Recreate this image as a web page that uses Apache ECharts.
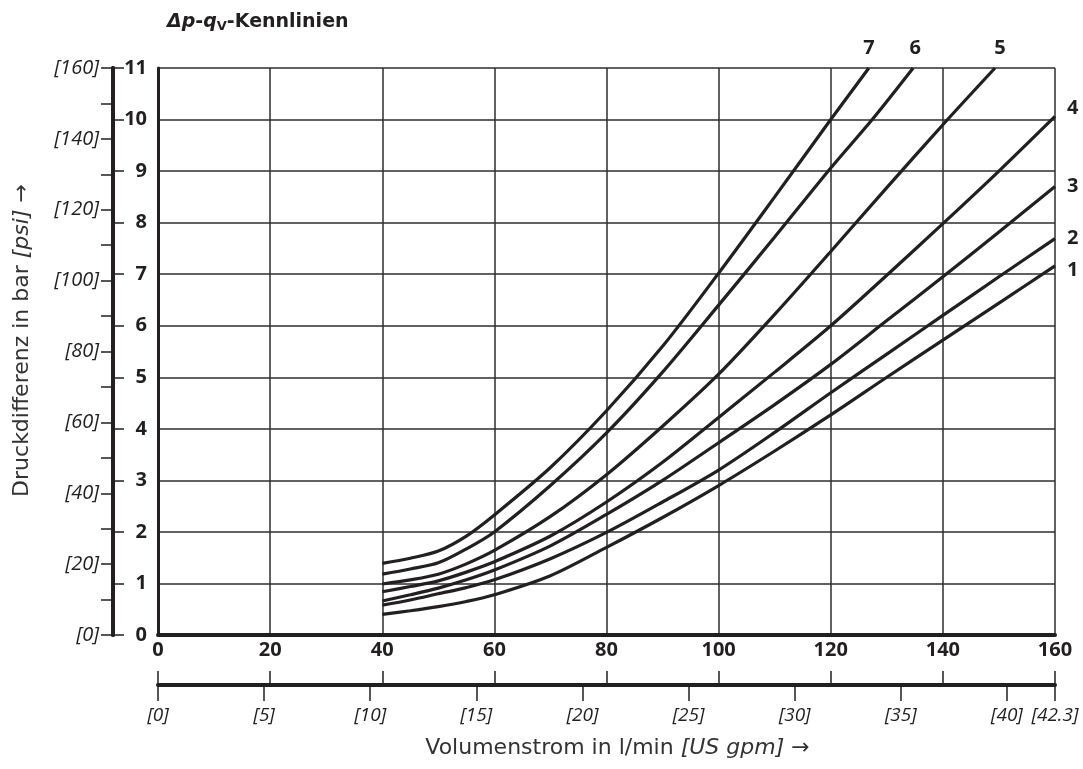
<!DOCTYPE html>
<html>
<head>
<meta charset="utf-8">
<script src="https://cdn.jsdelivr.net/npm/echarts@6/dist/echarts.min.js"></script>
<style>
  html, body { margin: 0; padding: 0; background: #ffffff; }
  #chart { width: 1083px; height: 769px; }
</style>
</head>
<body>
<div id="chart"></div>
<script>
// ---- data ----
const flowTicks = [0, 20, 40, 60, 80, 100, 120, 140, 160];      // l/min
const q1 = [40, 45, 50, 55, 60, 70, 80, 90, 100, 110, 120, 130, 140, 150, 160];
const dp1 = [0.40, 0.47, 0.55, 0.65, 0.78, 1.15, 1.70, 2.28, 2.90, 3.57, 4.27, 5.00, 5.72, 6.44, 7.16];
const q2 = [40, 45, 50, 55, 60, 70, 80, 90, 100, 110, 120, 130, 140, 150, 160];
const dp2 = [0.58, 0.68, 0.80, 0.92, 1.07, 1.48, 1.99, 2.58, 3.20, 3.93, 4.70, 5.45, 6.20, 6.95, 7.69];
const q3 = [40, 45, 50, 55, 60, 70, 80, 90, 100, 110, 120, 130, 140, 150, 160];
const dp3 = [0.66, 0.78, 0.91, 1.07, 1.26, 1.73, 2.34, 3.00, 3.73, 4.47, 5.25, 6.10, 6.95, 7.82, 8.70];
const q4 = [40, 45, 50, 55, 60, 70, 80, 90, 100, 110, 120, 130, 140, 150, 160];
const dp4 = [0.84, 0.94, 1.05, 1.22, 1.42, 1.92, 2.58, 3.35, 4.22, 5.10, 6.00, 6.98, 7.98, 9.00, 10.06];
const q5 = [40, 45, 50, 55, 60, 70, 80, 90, 100, 110, 120, 130, 140, 149.3];
const dp5 = [0.99, 1.07, 1.18, 1.38, 1.64, 2.30, 3.11, 4.05, 5.06, 6.22, 7.44, 8.68, 9.90, 11.0];
const q6 = [40, 45, 50, 55, 60, 70, 80, 90, 100, 110, 120, 127.4, 134.7];
const dp6 = [1.18, 1.28, 1.40, 1.67, 2.00, 2.90, 3.92, 5.10, 6.40, 7.72, 9.06, 10.0, 11.0];
const q7 = [40, 45, 50, 55, 60, 70, 80, 90, 100, 110, 120, 126.8];
const dp7 = [1.39, 1.49, 1.63, 1.92, 2.33, 3.25, 4.35, 5.60, 7.02, 8.50, 10.0, 11.0];
const curveNames = ['1', '2', '3', '4', '5', '6', '7'];
const LPM_PER_GPM = 3.78541;
const BAR_MAX = 11;
const PSI_MAX = 160;

// ---- styling ----
const INK = '#231f20';
const GRID = '#2e2e2e';
const numFont = '"Open Sans", "DejaVu Sans", sans-serif';
const nameFont = '"DejaVu Sans", sans-serif';

function pairs(xs, ys) { return xs.map((x, i) => [x, ys[i]]); }
const curves = [[q1, dp1], [q2, dp2], [q3, dp3], [q4, dp4], [q5, dp5], [q6, dp6], [q7, dp7]];

const endLabelStyles = [
  { distance: 12, verticalAlign: 'top', lineHeight: 8 },
  { distance: 12 },
  { distance: 12 },
  { distance: 12, verticalAlign: 'bottom', lineHeight: 16 },
  { distance: 0, align: 'center', verticalAlign: 'bottom', padding: [0, 0, 10, 10] },
  { distance: 0, align: 'center', verticalAlign: 'bottom', padding: [0, 0, 10, 4] },
  { distance: 0, align: 'center', verticalAlign: 'bottom', padding: [0, 0, 10, 0] }
];

const series = curves.map((c, i) => ({
  name: curveNames[i],
  type: 'line',
  xAxisIndex: 0,
  yAxisIndex: 0,
  data: pairs(c[0], c[1]),
  smooth: 0.3,
  showSymbol: false,
  symbol: 'none',
  clip: false,
  lineStyle: { color: INK, width: 3.2 },
  emphasis: { disabled: true },
  endLabel: Object.assign({
    show: true,
    formatter: curveNames[i],
    color: INK,
    fontFamily: numFont,
    fontWeight: 'bold',
    fontSize: 20
  }, endLabelStyles[i])
}));

const chart = echarts.init(document.getElementById('chart'), null, { renderer: 'canvas' });
chart.setOption({
  animation: false,
  backgroundColor: '#ffffff',
  title: {
    left: 162,
    top: 6,
    text: '{i|Δp}{b|-}{i|q}{s|V}{b|-Kennlinien}',
    textStyle: {
      rich: {
        i: { fontFamily: nameFont, fontWeight: 'bold', fontStyle: 'italic', fontSize: 19, color: INK },
        b: { fontFamily: nameFont, fontWeight: 'bold', fontSize: 19, color: INK },
        s: { fontFamily: nameFont, fontWeight: 'bold', fontSize: 13, color: INK, verticalAlign: 'top', padding: [9, 0, 0, 0] }
      }
    }
  },
  grid: { left: 158, right: 28, top: 68, bottom: 134, containLabel: false },
  xAxis: [
    {
      type: 'value', min: flowTicks[0], max: flowTicks[flowTicks.length - 1], interval: 20,
      position: 'bottom', offset: 0,
      axisLine: { show: true, onZero: false, lineStyle: { color: INK, width: 4 } },
      axisTick: { show: false },
      axisLabel: { color: INK, fontFamily: numFont, fontWeight: 'bold', fontSize: 20, margin: 5 },
      splitLine: { show: true, lineStyle: { color: GRID, width: 1.5 } }
    },
    {
      type: 'value', min: flowTicks[0], max: flowTicks[flowTicks.length - 1], interval: 20,
      position: 'bottom', offset: 50,
      axisLine: { show: false, onZero: false },
      axisTick: { show: true, inside: true, length: 14, lineStyle: { color: INK, width: 1.5 } },
      axisLabel: { show: false },
      splitLine: { show: false }
    },
    {
      type: 'value', min: 0, max: flowTicks[flowTicks.length - 1] / LPM_PER_GPM, interval: 5,
      position: 'bottom', offset: 50,
      axisLine: { show: true, onZero: false, lineStyle: { color: INK, width: 4 } },
      axisTick: { show: true, length: 16, lineStyle: { color: INK, width: 1.5 } },
      axisLabel: {
        color: INK, fontFamily: numFont, fontStyle: 'italic', fontSize: 19, margin: 21,
        formatter: v => '[' + (Math.abs(v - Math.round(v)) < 1e-6 ? Math.round(v) : v.toFixed(1)) + ']'
      },
      splitLine: { show: false },
      name: '{n|Volumenstrom in l/min }{i|[US gpm]}{n| →}',
      nameLocation: 'middle',
      nameGap: 52,
      nameTextStyle: {
        padding: [0, 0, 0, 22],
        rich: {
          n: { fontFamily: nameFont, fontSize: 22, color: '#333333' },
          i: { fontFamily: nameFont, fontStyle: 'italic', fontSize: 22, color: '#333333' }
        }
      }
    }
  ],
  yAxis: [
    {
      type: 'value', min: 0, max: BAR_MAX, interval: 1,
      position: 'left', offset: 45,
      axisLine: { show: true, onZero: false, lineStyle: { color: INK, width: 4 } },
      axisTick: { show: true, inside: true, length: 11, lineStyle: { color: INK, width: 1.5 } },
      axisLabel: { inside: true, margin: 34, align: 'right', color: INK, fontFamily: numFont, fontWeight: 'bold', fontSize: 20 },
      splitLine: { show: true, lineStyle: { color: GRID, width: 1.5 } }
    },
    {
      type: 'value', min: 0, max: PSI_MAX, interval: 20,
      position: 'left', offset: 45,
      axisLine: { show: true, onZero: false, lineStyle: { color: INK, width: 4 } },
      axisTick: { show: true, length: 12, lineStyle: { color: INK, width: 1.5 } },
      minorTick: { show: true, splitNumber: 2, length: 12, lineStyle: { color: INK, width: 1.5 } },
      axisLabel: {
        color: INK, fontFamily: numFont, fontStyle: 'italic', fontSize: 20, margin: 14,
        formatter: v => '[' + v + ']'
      },
      splitLine: { show: false },
      name: '{n|Druckdifferenz in bar }{i|[psi]}{n| →}',
      nameLocation: 'middle',
      nameRotate: 90,
      nameGap: 80,
      nameTextStyle: {
        padding: [0, 0, 0, 22],
        rich: {
          n: { fontFamily: nameFont, fontSize: 22, color: '#333333' },
          i: { fontFamily: nameFont, fontStyle: 'italic', fontSize: 22, color: '#333333' }
        }
      }
    },
    {
      type: 'value', min: 0, max: BAR_MAX, interval: 1,
      position: 'left', offset: 0,
      axisLine: { show: true, onZero: false, lineStyle: { color: INK, width: 3 } },
      axisTick: { show: false },
      axisLabel: { show: false },
      splitLine: { show: false }
    }
  ],
  series: series
});
</script>
</body>
</html>
